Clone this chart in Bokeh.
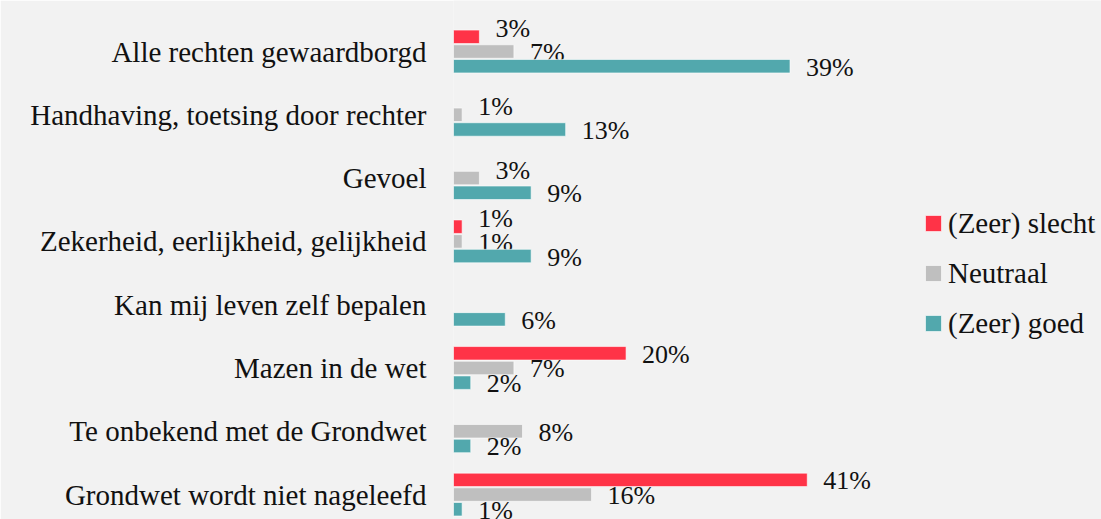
from bokeh.plotting import figure
from bokeh.models import ColumnDataSource, Range1d, FixedTicker, Legend, LegendItem
from bokeh.embed import file_html
from bokeh.resources import INLINE
from bokeh.core.properties import value

categories = [
    "Alle rechten gewaardborgd",
    "Handhaving, toetsing door rechter",
    "Gevoel",
    "Zekerheid, eerlijkheid, gelijkheid",
    "Kan mij leven zelf bepalen",
    "Mazen in de wet",
    "Te onbekend met de Grondwet",
    "Grondwet wordt niet nageleefd",
]
series_names = ["(Zeer) slecht", "Neutraal", "(Zeer) goed"]
slecht = [3, 0, 0, 1, 0, 20, 0, 41]
neutraal = [7, 1, 3, 1, 0, 7, 8, 16]
goed = [39, 13, 9, 9, 6, 2, 2, 1]
colors = ["#FF3347", "#BFBFBF", "#52A8AD"]

BG = "#F2F2F2"
FONT = "Liberation Serif"
TXT = "#111111"

p = figure(width=1101, height=519, output_backend="svg", toolbar_location=None,
           x_range=Range1d(0, 75.1), y_range=Range1d(7.394, -0.806),
           min_border_left=453, min_border_right=0, min_border_top=0, min_border_bottom=0)
p.background_fill_color = BG
p.border_fill_color = BG
p.outline_line_color = None
p.xgrid.visible = False
p.ygrid.visible = False
p.xaxis.visible = False

yax = p.yaxis[0]
yax.ticker = FixedTicker(ticks=list(range(len(categories))))
yax.major_label_overrides = {i: c for i, c in enumerate(categories)}
yax.axis_line_color = None
yax.major_tick_line_color = None
yax.minor_tick_line_color = None
yax.major_tick_in = 0
yax.major_tick_out = 0
yax.major_label_standoff = 27
yax.major_label_text_font = FONT
yax.major_label_text_font_size = "29px"
yax.major_label_text_color = TXT

all_series = [slecht, neutraal, goed]
offsets = [-0.232, 0.0, 0.232]
bar_h = 0.213

# label nudge: the top label of a group moves up when the bar below it is not shorter
def nudge(si, i):
    v = all_series[si][i]
    above = [all_series[k][i] for k in range(si)]
    if any(a > 0 for a in above):
        return 1
    below = [all_series[k][i] for k in range(si + 1, 3) if all_series[k][i] > 0]
    if below and v <= below[0]:
        return -8
    return 1

renderers = []
for si, (vals, off, col) in enumerate(zip(all_series, offsets, colors)):
    idx = [i for i, v in enumerate(vals) if v > 0]
    ys = [i + off for i in idx]
    xs = [vals[i] for i in idx]
    labels = [f"{v}%" for v in xs]
    yoff = [nudge(si, i) for i in idx]
    src = ColumnDataSource(dict(y=ys, x=xs, label=labels, yoff=yoff))
    r = p.hbar(y="y", left=0, right="x", height=bar_h, source=src,
               fill_color=col, line_color="white", line_alpha=0.6, line_width=1)
    renderers.append(r)
    p.text(x="x", y="y", text="label", source=src, x_offset=16, y_offset="yoff",
           text_align="left", text_baseline="middle",
           text_font=value(FONT), text_font_size="26px", text_color=TXT)

legend = Legend(items=[LegendItem(label=n, renderers=[r]) for n, r in zip(series_names, renderers)],
                location=(470, 178), orientation="vertical",
                glyph_width=20, glyph_height=20, label_height=36, spacing=14,
                label_standoff=5, padding=0, margin=0,
                border_line_color=None, background_fill_alpha=0,
                label_text_font=FONT, label_text_font_size="29px", label_text_color=TXT)
p.add_layout(legend)

open("out.html", "w").write(file_html(p, INLINE))
